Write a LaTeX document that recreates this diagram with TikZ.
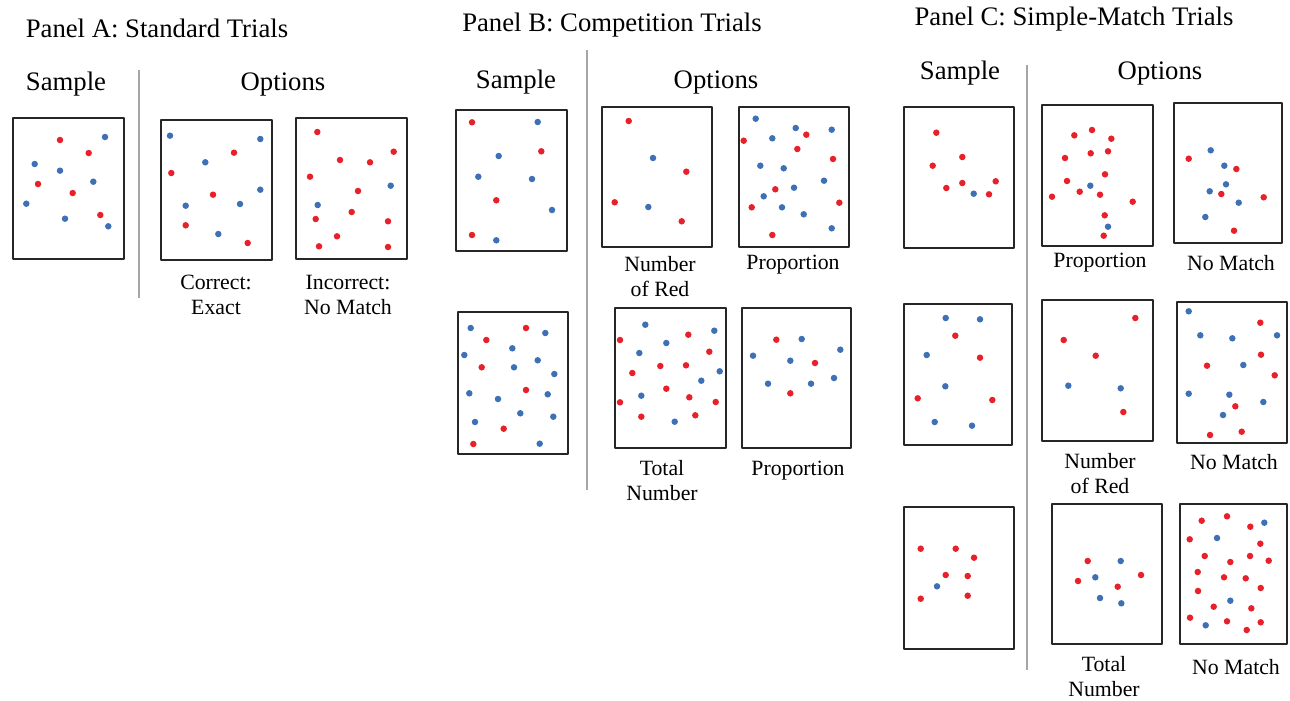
\documentclass[tikz,border=0pt]{standalone}
\usepackage{fontspec}
\setmainfont{Liberation Serif}
\definecolor{dotred}{RGB}{232,32,42}
\definecolor{dotblue}{RGB}{62,112,182}
\tikzset{
  card/.style={draw=black!85,line width=1.1pt},
  divider/.style={draw=black!35,line width=1.1pt},
  rd/.style={fill=dotred},
  bd/.style={fill=dotblue},
  head/.style={font=\fontsize{15.2}{18}\selectfont},
  lbl/.style={font=\fontsize{12.4}{14.2}\selectfont,align=center}
}
\begin{document}
\begin{tikzpicture}[x=0.02cm,y=-0.02cm,line join=round]
\useasboundingbox (0,0) rectangle (1290,700);

% panel A
\node[head] (tA) at (157,28) {Panel A: Standard Trials};
\node[head] (sA) at (66,84) {Sample};
\node[head] (oA) at (283,84) {Options};
\draw[divider] (139,70)--(139,298);
\draw[card] (13,118) rectangle (124,259);
\draw[card] (161,120) rectangle (272,260);
\draw[card] (296,118) rectangle (407,259);
\foreach \p in {(60,140),(88.7,153),(38,184),(72.7,193),(100.3,215)} \fill[rd] \p circle[radius=.065cm];
\foreach \p in {(105,137),(34.7,164),(60,170.7),(93.3,181.7),(26.3,203.7),(65,218.7),(108.3,226.3)} \fill[bd] \p circle[radius=.065cm];
\foreach \p in {(234,152.7),(171.3,173),(213,194.7),(185.7,225.3),(247.7,243)} \fill[rd] \p circle[radius=.065cm];
\foreach \p in {(170,135.7),(260.3,139),(205.3,162.3),(260.3,189.7),(185.7,205.7),(240,204),(218.3,234)} \fill[bd] \p circle[radius=.065cm];
\foreach \p in {(317.3,132),(393.7,151.7),(340,160),(370,162.3),(310,176.7),(358,191),(351.7,212),(315.7,219),(388,221.3),(337,236.3),(319,246.3),(388,247)} \fill[rd] \p circle[radius=.065cm];
\foreach \p in {(390.7,185.7),(317.7,205)} \fill[bd] \p circle[radius=.065cm];
\node[lbl] (cA1) at (216,295) {Correct:\\Exact};
\node[lbl] (cA2) at (348,295) {Incorrect:\\No Match};

% panel B
\node[head] (tB) at (612,25) {Panel B: Competition Trials};
\node[head] (sB) at (516,82) {Sample};
\node[head] (oB) at (716,82) {Options};
\draw[divider] (587,50)--(587,490);
\draw[card] (456,110) rectangle (567,251);
\draw[card] (602,107) rectangle (712,247);
\draw[card] (739,107) rectangle (849,247);
\draw[card] (458,312) rectangle (568,454);
\draw[card] (615,308) rectangle (726,448);
\draw[card] (742,308) rectangle (851,448);
\foreach \p in {(472,122.3),(541.3,151.3),(496.3,200.3),(472,235)} \fill[rd] \p circle[radius=.065cm];
\foreach \p in {(537.7,122),(498.7,156),(478.3,176.7),(532,179),(552,210),(496.3,240.3)} \fill[bd] \p circle[radius=.065cm];
\foreach \p in {(628.7,121),(686.3,171.7),(614.7,202.3),(681.7,221.3)} \fill[rd] \p circle[radius=.065cm];
\foreach \p in {(653,158),(648.3,207)} \fill[bd] \p circle[radius=.065cm];
\foreach \p in {(806.3,134.7),(743.7,140.7),(797.3,149),(833,159),(775.3,189.3),(839.3,202.7),(751.7,207.3),(772.3,235)} \fill[rd] \p circle[radius=.065cm];
\foreach \p in {(755.7,118.7),(795.7,128),(831.7,129.7),(772.3,138.3),(760.3,165.7),(783.7,168.3),(824,180.7),(794,187.7),(763.7,196.3),(782,207.3),(803.7,214.3),(831.7,228.3)} \fill[bd] \p circle[radius=.065cm];
\foreach \p in {(526,328),(486.3,340),(481.7,367.3),(526,390),(503.7,428.7),(473.3,444)} \fill[rd] \p circle[radius=.065cm];
\foreach \p in {(470.7,328),(545.3,333),(512.3,348.3),(464.3,355),(537.7,360.3),(514,367.3),(554.3,374),(469.3,393.3),(547.7,394.3),(498,399),(520.3,413.3),(553.3,416.7),(475,422),(539.7,443.7)} \fill[bd] \p circle[radius=.065cm];
\foreach \p in {(688.3,334.7),(620,340),(709.3,351.7),(660.3,366),(686,365.3),(632.3,373),(666.3,388.7),(689.3,397.3),(620,402.3),(715.7,402),(641.3,416.7),(695.3,415.3)} \fill[rd] \p circle[radius=.065cm];
\foreach \p in {(645.3,324.7),(714.3,330.7),(666.3,343),(639.3,353),(719.7,371.3),(701.3,380.7),(641.3,395.7),(674.7,421.7)} \fill[bd] \p circle[radius=.065cm];
\foreach \p in {(776.3,339.7),(815,363),(790.3,393.3)} \fill[rd] \p circle[radius=.065cm];
\foreach \p in {(801.7,339),(753,355.7),(840.3,349.7),(790.3,360.7),(768,383.7),(811,383.7),(834,378)} \fill[bd] \p circle[radius=.065cm];
\node[lbl] (cB1) at (660,277) {Number\\of Red};
\node[lbl] (cB2) at (793,265) {Proportion};
\node[lbl] (cB3) at (662,481) {Total\\Number};
\node[lbl] (cB4) at (798,471) {Proportion};

% panel C
\node[head] (tC) at (1074,19) {Panel C: Simple-Match Trials};
\node[head] (sC) at (960,73) {Sample};
\node[head] (oC) at (1160,73) {Options};
\draw[divider] (1027,65)--(1027,670);
\draw[card] (904,107) rectangle (1014,248);
\draw[card] (1042,105) rectangle (1153,246);
\draw[card] (1174,103) rectangle (1282,243);
\draw[card] (904,304) rectangle (1012,445);
\draw[card] (1042,300) rectangle (1153,441);
\draw[card] (1177,302) rectangle (1287,443);
\draw[card] (904,507) rectangle (1014,649);
\draw[card] (1052,504) rectangle (1162,644);
\draw[card] (1180,504) rectangle (1287,644);
\foreach \p in {(936.3,132.7),(962.3,157),(932.7,165.7),(946.3,188),(962.3,183),(995.7,181.3),(989,194.3)} \fill[rd] \p circle[radius=.065cm];
\fill[bd] (973.7,193.7) circle[radius=.065cm];
\foreach \p in {(1074.3,135.3),(1092,130),(1111.3,138.7),(1065,158),(1090.7,153.3),(1108,151.3),(1105,174.3),(1067,181),(1079.7,191.7),(1100,194.7),(1052,196.7),(1132.7,201.7),(1104.7,215.3),(1103.7,235.7)} \fill[rd] \p circle[radius=.065cm];
\foreach \p in {(1090.3,185.7),(1108,226.7)} \fill[bd] \p circle[radius=.065cm];
\foreach \p in {(1188.7,158.7),(1236.3,169),(1221.3,194),(1263.7,197.3),(1234,230.7)} \fill[rd] \p circle[radius=.065cm];
\foreach \p in {(1210.7,150.3),(1224.3,165.7),(1226,184.3),(1209.7,191.3),(1238.7,202.7),(1205.3,217)} \fill[bd] \p circle[radius=.065cm];
\foreach \p in {(955.3,335.7),(980,357.7),(917.7,398.3),(992.3,400)} \fill[rd] \p circle[radius=.065cm];
\foreach \p in {(945.7,318),(980,319.3),(926.7,355),(945.3,386.3),(934.7,422),(972,425.7)} \fill[bd] \p circle[radius=.065cm];
\foreach \p in {(1135.3,318),(1063.7,340),(1095.7,355.7),(1123.3,412)} \fill[rd] \p circle[radius=.065cm];
\foreach \p in {(1068.3,385.7),(1120.7,388.3)} \fill[bd] \p circle[radius=.065cm];
\foreach \p in {(1260.3,322.7),(1261,354.7),(1207,365.7),(1274.7,375.3),(1235.3,406.3),(1210,435),(1241.7,431.7)} \fill[rd] \p circle[radius=.065cm];
\foreach \p in {(1188.7,311.3),(1200.3,335.3),(1232.3,338.3),(1277,335.3),(1243.3,365),(1188.7,393.7),(1229.3,394.7),(1263.3,402),(1223,415)} \fill[bd] \p circle[radius=.065cm];
\foreach \p in {(920.7,548.7),(955.7,548.7),(974,557.7),(945.7,575),(967.7,576),(920.7,598.7),(967.7,595.7)} \fill[rd] \p circle[radius=.065cm];
\fill[bd] (937,586.3) circle[radius=.065cm];
\foreach \p in {(1087.7,561),(1078,581),(1141,575),(1117.7,586.7)} \fill[rd] \p circle[radius=.065cm];
\foreach \p in {(1120.7,561),(1095.3,577.3),(1100,598),(1121.3,603.3)} \fill[bd] \p circle[radius=.065cm];
\foreach \p in {(1201.7,520.7),(1227,516.3),(1250.3,526.7),(1189.7,539.3),(1260.3,543.7),(1204.7,556),(1230.3,562),(1250,556),(1268.7,560.7),(1197.7,572),(1224,577.3),(1245.7,578.3),(1260.7,588),(1198,591),(1213.7,606.7),(1251.3,608.3),(1190,617.7),(1227,621.3),(1260.7,622.3),(1246.7,630)} \fill[rd] \p circle[radius=.065cm];
\foreach \p in {(1264.3,522.7),(1217,538),(1230.3,600.7),(1205.7,625.3)} \fill[bd] \p circle[radius=.065cm];
\node[lbl] (cC1) at (1100,263) {Proportion};
\node[lbl] (cC2) at (1231,263) {No Match};
\node[lbl] (cC3) at (1100,474) {Number\\of Red};
\node[lbl] (cC4) at (1234,462) {No Match};
\node[lbl] (cC5) at (1104,677) {Total\\Number};
\node[lbl] (cC6) at (1236,667) {No Match};
\end{tikzpicture}
\end{document}
